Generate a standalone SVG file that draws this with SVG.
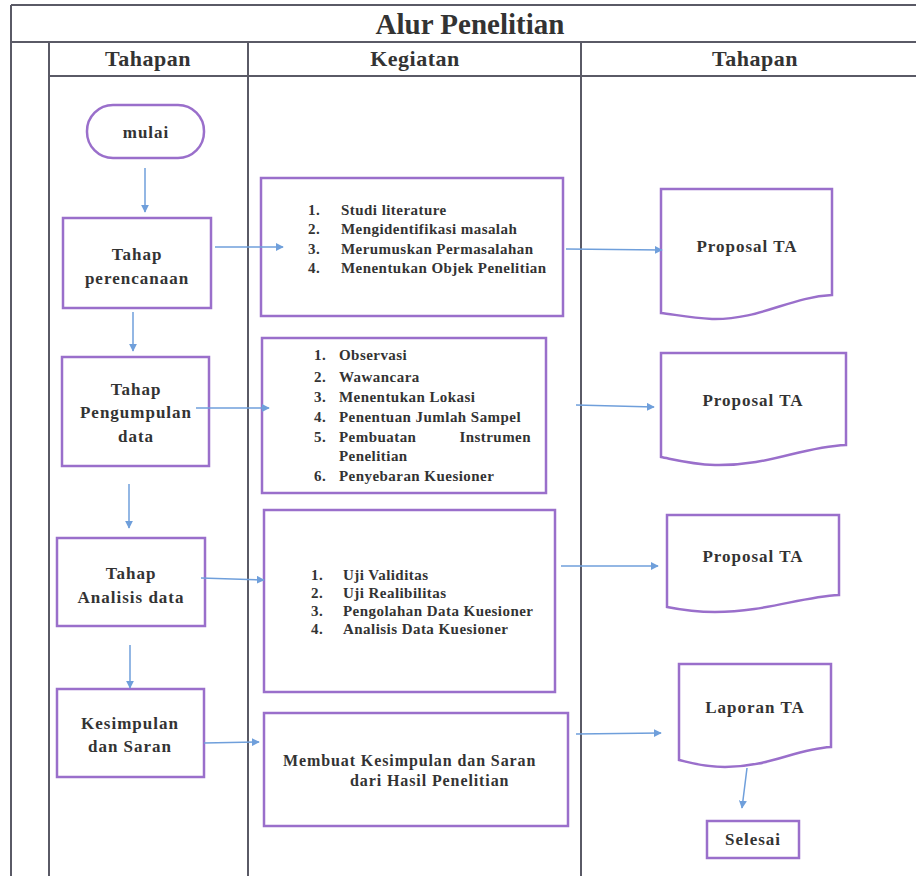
<svg xmlns="http://www.w3.org/2000/svg" width="916" height="876" viewBox="0 0 916 876">
<defs>
<style>
.frame{stroke:#5a5a66;stroke-width:2;fill:none}
.box{stroke:#9a6fcb;stroke-width:2.5;fill:#fff}
.conn{stroke:#6f9fdb;stroke-width:1.5;fill:none;marker-end:url(#ah)}
.title{font-family:"Liberation Serif",serif;font-weight:bold;font-size:29px;fill:#333;text-anchor:middle}
.head{font-family:"Liberation Serif",serif;font-weight:bold;font-size:22px;fill:#333;text-anchor:middle;letter-spacing:0.5px}
.node{font-family:"Liberation Serif",serif;font-weight:bold;font-size:17px;fill:#333;text-anchor:middle;letter-spacing:1px}
.item{font-family:"Liberation Serif",serif;font-weight:bold;font-size:15px;fill:#333;letter-spacing:0.45px}
.item2{font-family:"Liberation Serif",serif;font-weight:bold;font-size:16px;fill:#333;letter-spacing:0.9px}
</style>
<marker id="ah" viewBox="0 0 10 10" refX="9" refY="5" markerWidth="8" markerHeight="8" markerUnits="userSpaceOnUse" orient="auto">
<path d="M0,0 L10,5 L0,10 z" fill="#6f9fdb"/>
</marker>
</defs>
<rect width="916" height="876" fill="#fff"/>
<g id="frame">
<path class="frame" d="M11,5 H916 M11,5 V876 M11,42 H916 M49,42 V876 M49,76 H916 M248,42 V876 M581,42 V876"/>
<text class="title" x="470" y="34">Alur Penelitian</text>
<text class="head" x="148" y="66">Tahapan</text>
<text class="head" x="415" y="66">Kegiatan</text>
<text class="head" x="755" y="66">Tahapan</text>
</g>
<g id="mulai">
<rect class="box" x="87" y="105" width="117" height="53" rx="26"/>
<text class="node" x="146" y="138">mulai</text>
</g>
<g id="tahap-perencanaan">
<rect class="box" x="63" y="218" width="148" height="90"/>
<text class="node" x="137" y="260">Tahap</text>
<text class="node" x="137" y="284">perencanaan</text>
</g>
<g id="tahap-pengumpulan">
<rect class="box" x="62" y="357" width="147" height="109"/>
<text class="node" x="136" y="395">Tahap</text>
<text class="node" x="136" y="418">Pengumpulan</text>
<text class="node" x="136" y="442">data</text>
</g>
<g id="tahap-analisis">
<rect class="box" x="57" y="538" width="148" height="88"/>
<text class="node" x="131" y="579">Tahap</text>
<text class="node" x="131" y="603">Analisis data</text>
</g>
<g id="kesimpulan">
<rect class="box" x="57" y="689" width="147" height="88"/>
<text class="node" x="130" y="729">Kesimpulan</text>
<text class="node" x="130" y="752">dan Saran</text>
</g>
<g id="kegiatan-1">
<rect class="box" x="261" y="178" width="302" height="138"/>
<text class="item" x="308" y="215">1.</text><text class="item" x="341" y="215">Studi literature</text>
<text class="item" x="308" y="234">2.</text><text class="item" x="341" y="234">Mengidentifikasi masalah</text>
<text class="item" x="308" y="254">3.</text><text class="item" x="341" y="254">Merumuskan Permasalahan</text>
<text class="item" x="308" y="273">4.</text><text class="item" x="341" y="273">Menentukan Objek Penelitian</text>
</g>
<g id="kegiatan-2">
<rect class="box" x="262" y="338" width="284" height="155"/>
<text class="item" x="314" y="360">1.</text><text class="item" x="339" y="360">Observasi</text>
<text class="item" x="314" y="382">2.</text><text class="item" x="339" y="382">Wawancara</text>
<text class="item" x="314" y="402">3.</text><text class="item" x="339" y="402">Menentukan Lokasi</text>
<text class="item" x="314" y="422">4.</text><text class="item" x="339" y="422">Penentuan Jumlah Sampel</text>
<text class="item" x="314" y="442">5.</text><text class="item" x="339" y="442">Pembuatan</text><text class="item" x="531" y="442" text-anchor="end">Instrumen</text>
<text class="item" x="339" y="461">Penelitian</text>
<text class="item" x="314" y="481">6.</text><text class="item" x="339" y="481">Penyebaran Kuesioner</text>
</g>
<g id="kegiatan-3">
<rect class="box" x="264" y="510" width="291" height="182"/>
<text class="item" x="311" y="580">1.</text><text class="item" x="343" y="580">Uji Validitas</text>
<text class="item" x="311" y="598">2.</text><text class="item" x="343" y="598">Uji Realibilitas</text>
<text class="item" x="311" y="616">3.</text><text class="item" x="343" y="616">Pengolahan Data Kuesioner</text>
<text class="item" x="311" y="634">4.</text><text class="item" x="343" y="634">Analisis Data Kuesioner</text>
</g>
<g id="kegiatan-4">
<rect class="box" x="264" y="713" width="304" height="113"/>
<text class="item2" x="283" y="766">Membuat Kesimpulan dan Saran</text>
<text class="item2" x="350" y="786">dari Hasil Penelitian</text>
</g>
<g id="proposal-1">
<path class="box" d="M661,189 H832 V295 C790,297 760,320 712,319 C690,318 672,314 661,313 Z"/>
<text class="node" x="747" y="252">Proposal TA</text>
</g>
<g id="proposal-2">
<path class="box" d="M661,353 H846 V445 C800,447 770,466 715,465 C690,464 672,459 661,457 Z"/>
<text class="node" x="753" y="406">Proposal TA</text>
</g>
<g id="proposal-3">
<path class="box" d="M667,515 H839 V595 C800,597 765,612 715,612 C692,612 677,609 667,607 Z"/>
<text class="node" x="753" y="562">Proposal TA</text>
</g>
<g id="laporan">
<path class="box" d="M679,664 H831 V747 C795,749 770,767 725,767 C702,767 688,762 679,760 Z"/>
<text class="node" x="755" y="713">Laporan TA</text>
</g>
<g id="selesai">
<rect class="box" x="707" y="821" width="92" height="37"/>
<text class="node" x="753" y="845">Selesai</text>
</g>
<g id="connectors">
<line class="conn" x1="145" y1="168" x2="145" y2="212"/>
<line class="conn" x1="133" y1="312" x2="133" y2="351"/>
<line class="conn" x1="129" y1="484" x2="129" y2="528"/>
<line class="conn" x1="130" y1="645" x2="130" y2="688"/>
<line class="conn" x1="215" y1="247" x2="283" y2="247"/>
<line class="conn" x1="196" y1="408" x2="269" y2="408"/>
<line class="conn" x1="201" y1="578" x2="264" y2="580"/>
<line class="conn" x1="204" y1="743" x2="259" y2="742"/>
<line class="conn" x1="566" y1="249" x2="662" y2="250"/>
<line class="conn" x1="576" y1="405" x2="654" y2="407"/>
<line class="conn" x1="561" y1="566" x2="658" y2="566"/>
<line class="conn" x1="576" y1="734" x2="661" y2="733"/>
<line class="conn" x1="747" y1="768" x2="742" y2="808"/>
</g>
</svg>
